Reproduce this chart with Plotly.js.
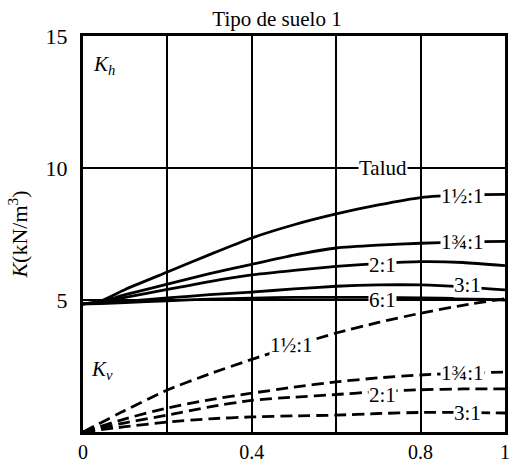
<!DOCTYPE html>
<html>
<head>
<meta charset="utf-8">
<script src="https://cdn.plot.ly/plotly-3.0.1.min.js"></script>
<style>html,body{margin:0;padding:0;background:#fff;}#chart{width:513px;height:465px;}</style>
</head>
<body>
<div id="chart"></div>
<script>
// Kh (solid) curves
var xKh = [0, 0.04, 0.1, 0.2, 0.3, 0.4, 0.5, 0.6, 0.7, 0.8, 0.9, 1.0];
var kh_1_5 = [4.85, 4.95, 5.4, 6.06, 6.72, 7.35, 7.85, 8.26, 8.6, 8.88, 8.98, 9.0];
var kh_1_75 = [4.85, 4.93, 5.2, 5.6, 6.0, 6.35, 6.7, 6.97, 7.08, 7.15, 7.2, 7.22];
var kh_2 = [4.85, 4.92, 5.1, 5.4, 5.7, 5.95, 6.12, 6.27, 6.38, 6.45, 6.42, 6.3];
var kh_3 = [4.85, 4.88, 4.95, 5.08, 5.2, 5.3, 5.42, 5.52, 5.57, 5.57, 5.5, 5.38];
var kh_6 = [4.85, 4.86, 4.9, 4.97, 5.03, 5.07, 5.1, 5.1, 5.1, 5.08, 5.05, 5.0];
// Kv (dashed) curves
var xKv = [0, 0.1, 0.2, 0.3, 0.4, 0.5, 0.6, 0.7, 0.8, 0.9, 1.0];
var kv_1_5 = [0, 0.82, 1.59, 2.2, 2.75, 3.27, 3.75, 4.15, 4.5, 4.8, 5.05];
var kv_1_75 = [0, 0.5, 0.91, 1.22, 1.47, 1.7, 1.9, 2.05, 2.16, 2.23, 2.27];
var kv_2 = [0, 0.35, 0.64, 0.95, 1.2, 1.32, 1.42, 1.53, 1.6, 1.63, 1.63];
var kv_3 = [0, 0.2, 0.38, 0.5, 0.57, 0.61, 0.64, 0.7, 0.74, 0.74, 0.72];

var xTicks = [0, 0.4, 0.8, 1];
var xTickText = ["0", "0.4", "0.8", "1"];
var yTicks = [5, 10, 15];
var yTickText = ["5", "10", "15"];

// curve labels
var labText = ["1½:1", "1¾:1", "2:1", "3:1", "6:1", "1½:1", "1¾:1", "2:1", "3:1", "Talud"];
var labX = [0.90, 0.90, 0.71, 0.91, 0.71, 0.495, 0.90, 0.71, 0.91, 0.71];
var labY = [8.94, 7.2, 6.33, 5.57, 5.0, 3.3, 2.23, 1.4, 0.72, 10];

var serif = "Liberation Serif, Times New Roman, serif";
function solid(y){return {x:xKh, y:y, mode:"lines", line:{color:"#000", width:2.8, shape:"spline", smoothing:0.6}, hoverinfo:"skip"};}
function dashed(y){return {x:xKv, y:y, mode:"lines", line:{color:"#000", width:2.8, dash:"12px,6px", shape:"spline", smoothing:0.6}, hoverinfo:"skip"};}

var data = [solid(kh_1_5), solid(kh_1_75), solid(kh_2), solid(kh_3), solid(kh_6),
            dashed(kv_1_5), dashed(kv_1_75), dashed(kv_2), dashed(kv_3)];

var annotations = labText.map(function(t,i){
  return {x:labX[i], y:labY[i], xref:"x", yref:"y", text:t, showarrow:false,
          font:{family:serif, size:21, color:"#000"}, bgcolor:"#fff", borderpad:0};
});
annotations.push({x:0.02, y:13.9, xref:"x", yref:"y", xanchor:"left", text:"<i>K</i><sub><i>h</i></sub>", showarrow:false, font:{family:serif, size:21, color:"#000"}});
annotations.push({x:0.015, y:2.35, xref:"x", yref:"y", xanchor:"left", text:"<i>K</i><sub><i>v</i></sub>", showarrow:false, font:{family:serif, size:21, color:"#000"}});

var layout = {
  width:513, height:465,
  margin:{l:83, r:8, t:36, b:33},
  paper_bgcolor:"#fff", plot_bgcolor:"#fff",
  showlegend:false,
  title:{text:"Tipo de suelo 1", font:{family:serif, size:21, color:"#000"}, x:0.54, xanchor:"center", y:0.975, yanchor:"top"},
  xaxis:{range:[0,1], tickvals:xTicks, ticktext:xTickText, ticks:"", showgrid:true, gridcolor:"#000", gridwidth:2,
         minor:{dtick:0.2, tick0:0, showgrid:true, gridcolor:"#000", gridwidth:2, ticks:""},
         showline:true, linecolor:"#000", linewidth:3, mirror:true, zeroline:false, ticklabelstandoff:0,
         tickfont:{family:serif, size:20, color:"#000"}, fixedrange:true},
  yaxis:{range:[0,15], tickvals:yTicks, ticktext:yTickText, ticks:"", showgrid:true, gridcolor:"#000", gridwidth:2,
         showline:true, linecolor:"#000", linewidth:3, mirror:true, zeroline:false, ticklabelstandoff:8,
         tickfont:{family:serif, size:22, color:"#000"}, fixedrange:true,
         title:{text:"<i>K</i>(kN/m<sup>3</sup>)", font:{family:serif, size:22, color:"#000"}, standoff:12}},
  annotations:annotations
};
Plotly.newPlot("chart", data, layout, {displayModeBar:false, staticPlot:true});
</script>
</body>
</html>
